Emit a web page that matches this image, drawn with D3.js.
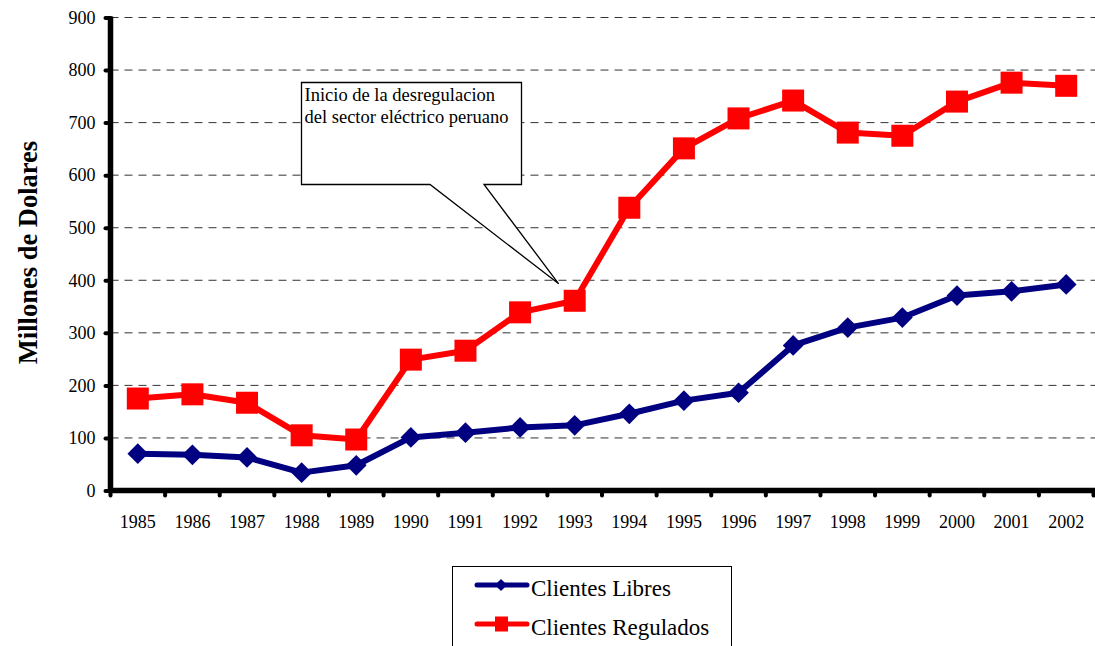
<!DOCTYPE html>
<html>
<head>
<meta charset="utf-8">
<script src="https://cdn.jsdelivr.net/npm/d3@7/dist/d3.min.js"></script>
<style>
  html, body { margin: 0; padding: 0; background: #fff; }
  svg { display: block; font-family: "Liberation Serif", "Times New Roman", serif; }
</style>
</head>
<body>
<svg id="chart" width="1095" height="646"></svg>
<script>
// Annual billing by client type, millions of US dollars
const years = ["1985","1986","1987","1988","1989","1990","1991","1992","1993",
               "1994","1995","1996","1997","1998","1999","2000","2001","2002"];
const clientesLibres = [70, 68, 63, 34, 48, 101, 110, 120, 124,
                        146, 171, 186, 276, 310, 329, 371, 379, 392];
const clientesRegulados = [175, 183, 167, 105, 97, 249, 266, 339, 361,
                           538, 651, 708, 742, 681, 675, 740, 776, 770];
const yTicks = [0, 100, 200, 300, 400, 500, 600, 700, 800, 900];
const seriesNames = ["Clientes Libres", "Clientes Regulados"];
const calloutLines = ["Inicio de la desregulacion", "del sector eléctrico peruano"];
const calloutYear = "1993";

(function () {
const svg = d3.select("#chart");
const plotLeft = 110.5, plotRight = 1093.5, plotTop = 17.5, plotBottom = 490.5;
const serif = "'Liberation Serif', 'Times New Roman', serif";

const x = d3.scaleBand().domain(years).range([plotLeft, plotRight]);
const y = d3.scaleLinear().domain([0, 900]).range([plotBottom, plotTop]);

// dashed horizontal gridlines
svg.append("g").selectAll("line").data(yTicks.slice(1)).join("line")
  .attr("x1", plotLeft).attr("x2", 1095)
  .attr("y1", d => y(d)).attr("y2", d => y(d))
  .attr("stroke", "#333").attr("stroke-width", 1)
  .attr("stroke-dasharray", "8,6");

// y axis
const yAxis = svg.append("g").attr("transform", `translate(${plotLeft},0)`)
  .attr("font-family", serif)
  .call(d3.axisLeft(y).tickValues(yTicks).tickSize(5).tickPadding(10));
yAxis.attr("font-family", serif);
yAxis.select(".domain").remove();
yAxis.selectAll(".tick line").attr("stroke", "#000").attr("stroke-width", 4)
  .attr("stroke-linecap", "round");
yAxis.selectAll(".tick text").attr("font-size", 18).attr("fill", "#000");

// x axis: ticks at category boundaries, labels centred in each band
const xAxis = svg.append("g").attr("transform", `translate(0,${plotBottom})`)
  .call(d3.axisBottom(x).tickSize(0).tickPadding(0));
xAxis.attr("font-family", serif);
xAxis.select(".domain").remove();
xAxis.selectAll(".tick text").attr("font-size", 18).attr("fill", "#000")
  .attr("dy", null).attr("y", 37);
const boundaries = years.map(d => x(d)).concat([plotRight]);
svg.append("g").selectAll("line").data(boundaries).join("line")
  .attr("x1", d => d).attr("x2", d => d)
  .attr("y1", plotBottom).attr("y2", plotBottom + 5)
  .attr("stroke", "#000").attr("stroke-width", 4).attr("stroke-linecap", "round");

// axis lines
svg.append("line").attr("x1", plotLeft).attr("x2", plotLeft).attr("y1", plotTop - 1).attr("y2", plotBottom)
  .attr("stroke", "#000").attr("stroke-width", 5.5);
svg.append("line").attr("x1", plotLeft - 2).attr("x2", 1095).attr("y1", plotBottom).attr("y2", plotBottom)
  .attr("stroke", "#000").attr("stroke-width", 5.5);

// y axis title
svg.append("text")
  .attr("transform", `translate(37,252.5) rotate(-90)`)
  .attr("text-anchor", "middle")
  .attr("font-size", 26.5).attr("font-weight", "bold")
  .text("Millones de Dolares");

const cx = d => x(d) + x.bandwidth() / 2;
const line = d3.line().x(d => cx(d.year)).y(d => y(d.value));

const libres = years.map((yr, i) => ({ year: yr, value: clientesLibres[i] }));
const regulados = years.map((yr, i) => ({ year: yr, value: clientesRegulados[i] }));

const navy = "#000080", red = "#ff0000";

// Clientes Libres line + diamonds
svg.append("path").datum(libres).attr("d", line)
  .attr("fill", "none").attr("stroke", navy).attr("stroke-width", 6)
  .attr("stroke-linejoin", "round");
svg.append("g").selectAll("path").data(libres).join("path")
  .attr("d", d3.symbol().type(d3.symbolSquare).size(215))
  .attr("transform", d => `translate(${cx(d.year)},${y(d.value)}) rotate(45)`)
  .attr("fill", navy);

// Clientes Regulados line + squares
svg.append("path").datum(regulados).attr("d", line)
  .attr("fill", "none").attr("stroke", red).attr("stroke-width", 6)
  .attr("stroke-linejoin", "round");
svg.append("g").selectAll("rect").data(regulados).join("rect")
  .attr("x", d => cx(d.year) - 11).attr("y", d => y(d.value) - 11)
  .attr("width", 22).attr("height", 22)
  .attr("fill", red);

// callout box pointing at the start of deregulation
const tipX = cx(calloutYear) - 16, tipY = y(clientesRegulados[years.indexOf(calloutYear)]) - 17;
const bx0 = 301.5, bx1 = 521.5, by0 = 82.5, by1 = 184.5;
svg.append("path")
  .attr("d", `M${bx0},${by0} H${bx1} V${by1} H484 L${tipX},${tipY} L430,${by1} H${bx0} Z`)
  .attr("fill", "#fff").attr("stroke", "#000").attr("stroke-width", 1.3)
  .attr("stroke-linejoin", "miter");
svg.append("g").selectAll("text").data(calloutLines).join("text")
  .attr("x", 304.5).attr("y", (d, i) => 101 + i * 22)
  .attr("font-size", 18.5)
  .text(d => d);

// legend
const legend = svg.append("g");
legend.append("rect").attr("x", 452.5).attr("y", 566.5).attr("width", 279).attr("height", 100)
  .attr("fill", "#fff").attr("stroke", "#000").attr("stroke-width", 1);
const legendRows = [
  { name: seriesNames[0], color: navy, shape: "diamond", yy: 585 },
  { name: seriesNames[1], color: red, shape: "square", yy: 624 }
];
legendRows.forEach(r => {
  legend.append("line").attr("x1", 477).attr("x2", 527).attr("y1", r.yy).attr("y2", r.yy)
    .attr("stroke", r.color).attr("stroke-width", 5).attr("stroke-linecap", "round");
  if (r.shape === "diamond") {
    legend.append("path").attr("d", d3.symbol().type(d3.symbolSquare).size(75))
      .attr("transform", `translate(501,${r.yy}) rotate(45)`).attr("fill", r.color);
  } else {
    legend.append("rect").attr("x", 495).attr("y", r.yy - 7.5).attr("width", 13).attr("height", 15)
      .attr("fill", r.color);
  }
  legend.append("text").attr("x", 531).attr("y", r.yy + 11).attr("font-size", 23).text(r.name);
});
})();
</script>
</body>
</html>
